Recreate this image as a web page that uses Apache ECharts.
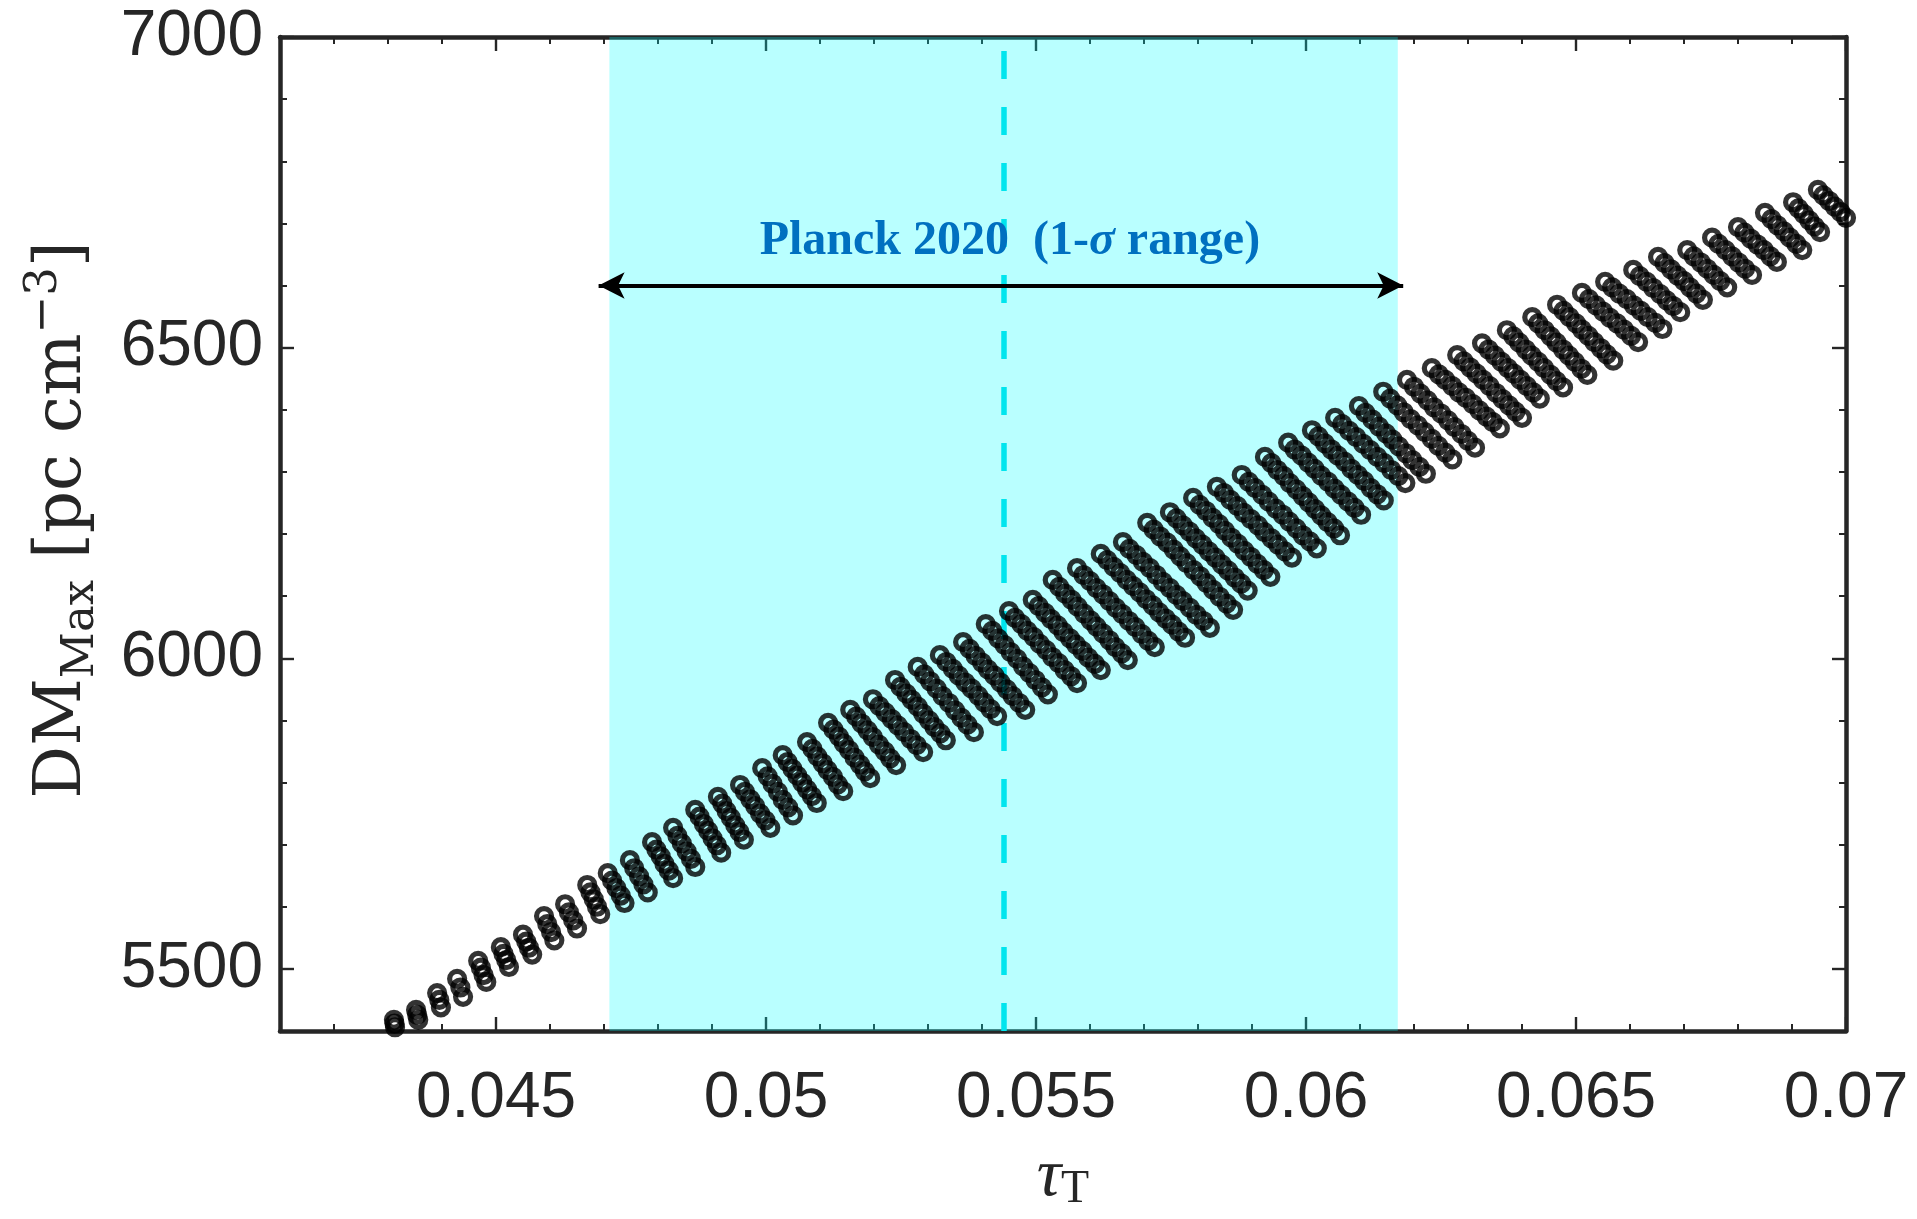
<!DOCTYPE html>
<html><head><meta charset="utf-8">
<script src="https://cdn.jsdelivr.net/npm/echarts@6/dist/echarts.min.js"></script>
<style>html,body{margin:0;padding:0;background:#fff}#c{width:1917px;height:1219px}</style>
</head><body><div id="c"></div><script>
// axis ranges and ticks
const xRange = [0.041, 0.07];
const yRange = [5400, 7000];
const xMajorTicks = [0.045, 0.05, 0.055, 0.06, 0.065, 0.07];
const xMinorTicks = [0.042,0.043,0.044,0.046,0.047,0.048,0.049,0.051,0.052,0.053,0.054,0.056,0.057,0.058,0.059,0.061,0.062,0.063,0.064,0.066,0.067,0.068,0.069];
const yMajorTicks = [5500, 6000, 6500, 7000];
const yMinorTicks = [5600,5700,5800,5900,6100,6200,6300,6400,6600,6700,6800,6900];
// Planck 2020 tau range
const planckRange = [0.0471, 0.0617];
const planckCentral = 0.0544;
const arrowSpan = [0.0469, 0.0618];
const arrowLevel = 6600;
// scatter points [tau_T, DM_Max], one row per stroke of the grid
const strokes = [
[[0.04311,5418],[0.04312,5412],[0.04313,5406]],
[[0.04352,5434],[0.04354,5426],[0.04356,5418]],
[[0.04391,5461],[0.04395,5450],[0.04398,5438]],
[[0.04428,5484],[0.04434,5470],[0.04439,5455]],
[[0.04467,5513],[0.04472,5502],[0.04477,5490],[0.04482,5479]],
[[0.04509,5535],[0.04514,5524],[0.04519,5514],[0.04524,5503]],
[[0.04550,5555],[0.04556,5544],[0.04561,5534],[0.04567,5523]],
[[0.04589,5585],[0.04595,5572],[0.04602,5559],[0.04608,5546]],
[[0.04628,5604],[0.04635,5591],[0.04643,5578],[0.04650,5565]],
[[0.04669,5635],[0.04675,5623],[0.04681,5612],[0.04687,5600],[0.04693,5588]],
[[0.04707,5654],[0.04715,5642],[0.04723,5630],[0.04731,5618],[0.04738,5606]],
[[0.04748,5675],[0.04756,5662],[0.04765,5649],[0.04773,5636],[0.04781,5623]],
[[0.04789,5704],[0.04797,5692],[0.04805,5681],[0.04812,5669],[0.04820,5658],[0.04828,5646]],
[[0.04828,5727],[0.04836,5714],[0.04844,5702],[0.04853,5689],[0.04861,5677],[0.04869,5664]],
[[0.04869,5756],[0.04877,5745],[0.04885,5733],[0.04893,5722],[0.04901,5710],[0.04909,5699],[0.04917,5687]],
[[0.04911,5777],[0.04919,5766],[0.04927,5754],[0.04935,5743],[0.04943,5731],[0.04951,5720],[0.04959,5708]],
[[0.04952,5796],[0.04961,5785],[0.04971,5773],[0.04980,5762],[0.04989,5750],[0.04999,5739],[0.05008,5727]],
[[0.04993,5823],[0.05003,5810],[0.05012,5798],[0.05022,5785],[0.05031,5772],[0.05041,5760],[0.05050,5747]],
[[0.05031,5844],[0.05040,5833],[0.05049,5822],[0.05058,5811],[0.05067,5800],[0.05076,5789],[0.05085,5778],[0.05094,5767]],
[[0.05076,5865],[0.05086,5854],[0.05095,5842],[0.05105,5831],[0.05114,5820],[0.05124,5809],[0.05133,5797],[0.05143,5786]],
[[0.05115,5896],[0.05125,5885],[0.05135,5874],[0.05144,5863],[0.05154,5852],[0.05164,5840],[0.05174,5829],[0.05183,5818],[0.05193,5807]],
[[0.05156,5917],[0.05167,5906],[0.05177,5895],[0.05188,5884],[0.05198,5873],[0.05209,5861],[0.05220,5850],[0.05230,5839],[0.05241,5828]],
[[0.05198,5934],[0.05210,5923],[0.05221,5913],[0.05233,5902],[0.05244,5892],[0.05256,5881],[0.05268,5870],[0.05279,5860],[0.05291,5849]],
[[0.05239,5965],[0.05249,5954],[0.05260,5943],[0.05270,5933],[0.05281,5922],[0.05291,5911],[0.05302,5900],[0.05312,5889],[0.05323,5879],[0.05333,5868]],
[[0.05281,5986],[0.05293,5974],[0.05304,5963],[0.05316,5951],[0.05327,5939],[0.05339,5928],[0.05350,5916],[0.05362,5904],[0.05373,5893],[0.05385,5881]],
[[0.05322,6005],[0.05334,5994],[0.05346,5983],[0.05357,5972],[0.05369,5961],[0.05381,5951],[0.05393,5940],[0.05404,5929],[0.05416,5918],[0.05428,5907]],
[[0.05365,6026],[0.05377,6015],[0.05388,6004],[0.05400,5993],[0.05411,5982],[0.05423,5972],[0.05434,5961],[0.05446,5950],[0.05457,5939],[0.05469,5928],[0.05480,5917]],
[[0.05407,6055],[0.05419,6044],[0.05430,6032],[0.05442,6021],[0.05453,6010],[0.05465,5999],[0.05476,5987],[0.05488,5976],[0.05499,5965],[0.05511,5953],[0.05522,5942]],
[[0.05450,6076],[0.05461,6065],[0.05473,6055],[0.05484,6044],[0.05496,6034],[0.05507,6023],[0.05519,6013],[0.05530,6002],[0.05542,5992],[0.05553,5981],[0.05565,5971],[0.05576,5960]],
[[0.05494,6094],[0.05505,6084],[0.05517,6073],[0.05528,6063],[0.05540,6053],[0.05551,6042],[0.05563,6032],[0.05574,6022],[0.05586,6012],[0.05597,6001],[0.05609,5991],[0.05620,5981]],
[[0.05531,6126],[0.05543,6115],[0.05554,6104],[0.05566,6094],[0.05577,6083],[0.05589,6072],[0.05601,6061],[0.05612,6051],[0.05624,6040],[0.05636,6029],[0.05647,6018],[0.05659,6008],[0.05670,5997]],
[[0.05576,6145],[0.05588,6134],[0.05600,6124],[0.05612,6113],[0.05624,6103],[0.05636,6092],[0.05648,6081],[0.05660,6071],[0.05672,6060],[0.05684,6050],[0.05696,6039],[0.05708,6028],[0.05720,6018]],
[[0.05620,6168],[0.05632,6158],[0.05644,6147],[0.05656,6137],[0.05668,6126],[0.05680,6116],[0.05692,6106],[0.05704,6095],[0.05716,6085],[0.05728,6074],[0.05740,6064],[0.05752,6054],[0.05764,6043],[0.05776,6033]],
[[0.05661,6187],[0.05673,6176],[0.05686,6166],[0.05698,6155],[0.05711,6145],[0.05723,6134],[0.05735,6123],[0.05748,6113],[0.05760,6102],[0.05772,6092],[0.05785,6081],[0.05797,6070],[0.05810,6060],[0.05822,6049]],
[[0.05706,6218],[0.05718,6207],[0.05730,6196],[0.05743,6186],[0.05755,6175],[0.05767,6164],[0.05779,6153],[0.05792,6142],[0.05804,6132],[0.05816,6121],[0.05828,6110],[0.05840,6099],[0.05853,6088],[0.05865,6078]],
[[0.05748,6235],[0.05760,6225],[0.05772,6214],[0.05784,6204],[0.05796,6193],[0.05808,6183],[0.05820,6172],[0.05832,6162],[0.05844,6151],[0.05856,6141],[0.05868,6130],[0.05880,6120],[0.05892,6109]],
[[0.05791,6258],[0.05803,6247],[0.05815,6237],[0.05827,6226],[0.05839,6216],[0.05850,6205],[0.05862,6194],[0.05874,6184],[0.05886,6173],[0.05898,6163],[0.05910,6152],[0.05922,6142],[0.05934,6131]],
[[0.05835,6276],[0.05848,6266],[0.05860,6255],[0.05873,6245],[0.05885,6234],[0.05898,6224],[0.05911,6214],[0.05923,6203],[0.05936,6193],[0.05948,6183],[0.05961,6172],[0.05974,6162]],
[[0.05881,6295],[0.05894,6284],[0.05906,6274],[0.05919,6263],[0.05931,6252],[0.05944,6241],[0.05957,6231],[0.05969,6220],[0.05982,6209],[0.05994,6198],[0.06007,6188],[0.06020,6177]],
[[0.05924,6324],[0.05936,6314],[0.05947,6303],[0.05959,6293],[0.05970,6282],[0.05982,6272],[0.05994,6261],[0.06005,6251],[0.06017,6240],[0.06028,6230],[0.06040,6219],[0.06052,6209],[0.06063,6198]],
[[0.05967,6347],[0.05979,6336],[0.05992,6326],[0.06004,6315],[0.06016,6305],[0.06028,6294],[0.06041,6284],[0.06053,6273],[0.06065,6263],[0.06078,6252],[0.06090,6242],[0.06102,6231]],
[[0.06011,6367],[0.06023,6357],[0.06035,6346],[0.06047,6336],[0.06059,6326],[0.06072,6316],[0.06084,6305],[0.06096,6295],[0.06108,6285],[0.06120,6274],[0.06132,6264],[0.06144,6254]],
[[0.06054,6387],[0.06067,6377],[0.06080,6366],[0.06093,6356],[0.06106,6345],[0.06119,6335],[0.06132,6324],[0.06145,6314],[0.06158,6303],[0.06171,6293],[0.06184,6282]],
[[0.06098,6406],[0.06110,6395],[0.06123,6384],[0.06135,6373],[0.06148,6362],[0.06160,6352],[0.06172,6341],[0.06185,6330],[0.06197,6319],[0.06210,6308],[0.06222,6297]],
[[0.06143,6429],[0.06156,6418],[0.06169,6407],[0.06181,6396],[0.06194,6385],[0.06207,6375],[0.06220,6364],[0.06233,6353],[0.06245,6342],[0.06258,6331],[0.06271,6320]],
[[0.06187,6448],[0.06200,6437],[0.06212,6426],[0.06225,6415],[0.06237,6404],[0.06250,6394],[0.06263,6383],[0.06275,6372],[0.06288,6361],[0.06300,6350],[0.06313,6339]],
[[0.06233,6467],[0.06246,6457],[0.06258,6448],[0.06271,6438],[0.06283,6428],[0.06296,6419],[0.06309,6409],[0.06321,6399],[0.06334,6389],[0.06346,6380],[0.06359,6370]],
[[0.06280,6488],[0.06292,6478],[0.06304,6468],[0.06316,6458],[0.06328,6448],[0.06340,6438],[0.06352,6427],[0.06364,6417],[0.06376,6407],[0.06388,6397],[0.06400,6387]],
[[0.06326,6507],[0.06338,6497],[0.06350,6487],[0.06362,6477],[0.06374,6467],[0.06385,6458],[0.06397,6448],[0.06409,6438],[0.06421,6428],[0.06433,6418]],
[[0.06372,6528],[0.06384,6518],[0.06395,6508],[0.06407,6497],[0.06418,6487],[0.06430,6477],[0.06441,6467],[0.06453,6456],[0.06464,6446],[0.06476,6436]],
[[0.06419,6549],[0.06430,6539],[0.06442,6528],[0.06453,6518],[0.06464,6508],[0.06476,6497],[0.06487,6487],[0.06498,6477],[0.06510,6466],[0.06521,6456]],
[[0.06465,6569],[0.06477,6559],[0.06488,6549],[0.06500,6539],[0.06511,6529],[0.06523,6519],[0.06534,6509],[0.06546,6499],[0.06557,6489],[0.06569,6479]],
[[0.06511,6588],[0.06524,6578],[0.06537,6568],[0.06550,6558],[0.06563,6548],[0.06576,6539],[0.06589,6529],[0.06602,6519],[0.06615,6509]],
[[0.06554,6606],[0.06567,6597],[0.06580,6587],[0.06594,6578],[0.06607,6568],[0.06620,6559],[0.06633,6549],[0.06647,6540],[0.06660,6530]],
[[0.06606,6625],[0.06618,6615],[0.06631,6606],[0.06643,6596],[0.06656,6586],[0.06668,6576],[0.06680,6567],[0.06693,6557]],
[[0.06652,6646],[0.06664,6636],[0.06676,6626],[0.06688,6616],[0.06700,6607],[0.06711,6597],[0.06723,6587],[0.06735,6577]],
[[0.06706,6657],[0.06718,6647],[0.06731,6637],[0.06743,6627],[0.06755,6617],[0.06767,6607],[0.06780,6597]],
[[0.06752,6677],[0.06764,6667],[0.06777,6657],[0.06789,6647],[0.06801,6637],[0.06813,6627],[0.06826,6617]],
[[0.06800,6694],[0.06812,6685],[0.06824,6675],[0.06836,6666],[0.06848,6657],[0.06860,6647],[0.06872,6638]],
[[0.06850,6717],[0.06862,6707],[0.06873,6697],[0.06885,6687],[0.06896,6677],[0.06908,6667],[0.06919,6657]],
[[0.06902,6734],[0.06912,6724],[0.06922,6715],[0.06932,6705],[0.06942,6695],[0.06952,6686]],
[[0.06948,6754],[0.06958,6745],[0.06969,6736],[0.06979,6727],[0.06990,6718],[0.07000,6709]]
];

const axisCol = '#262626';
const serif = 'DejaVu Serif';
const boldSerif = 'Liberation Serif';
const sans = 'Liberation Sans';
const plain = v => String(v);

function xAx(pos, major) {
  return {
    type: 'value', position: pos, min: xRange[0], max: xRange[1],
    axisLine: { show: major, onZero: false, lineStyle: { color: axisCol, width: 4.5 } },
    splitLine: { show: false },
    axisTick: { show: true, inside: true, length: major ? 14 : 7,
      customValues: major ? xMajorTicks : xMinorTicks,
      lineStyle: { color: axisCol, width: major ? 2.4 : 2 } },
    axisLabel: (pos === 'bottom' && major) ? {
      show: true, customValues: xMajorTicks, margin: 36, fontSize: 64, formatter: plain,
      fontFamily: sans, color: axisCol } : { show: false }
  };
}
function yAx(pos, major) {
  return {
    type: 'value', position: pos, min: yRange[0], max: yRange[1],
    axisLine: { show: major, onZero: false, lineStyle: { color: axisCol, width: 4.5 } },
    splitLine: { show: false },
    axisTick: { show: true, inside: true, length: major ? 14 : 7,
      customValues: major ? yMajorTicks : yMinorTicks,
      lineStyle: { color: axisCol, width: major ? 2.4 : 2 } },
    axisLabel: (pos === 'left' && major) ? {
      show: true, customValues: yMajorTicks, margin: 17, fontSize: 64, formatter: plain,
      fontFamily: sans, color: axisCol } : { show: false }
  };
}

const xMain = xAx('bottom', true);
xMain.name = '{t|τ}{s|T}';
xMain.nameLocation = 'middle';
xMain.nameGap = 112;
xMain.nameMoveOverlap = false;
xMain.nameTextStyle = { rich: {
  t: { fontFamily: 'Liberation Serif', fontStyle: 'italic', fontSize: 68, color: axisCol, lineHeight: 70, verticalAlign: 'top' },
  s: { fontFamily: 'Liberation Serif', fontSize: 46, color: axisCol, lineHeight: 46, verticalAlign: 'bottom' }
}};

const yMain = yAx('left', true);
yMain.name = '{a|DM}{b|Max}{a| [pc cm}{c|−3}{a|]}';
yMain.nameLocation = 'middle';
yMain.nameRotate = 90;
yMain.nameGap = 176;
yMain.nameMoveOverlap = false;
yMain.nameTextStyle = { padding: [0, 0, 0, 28], rich: {
  a: { fontFamily: serif, fontSize: 66, color: axisCol, lineHeight: 82 },
  b: { fontFamily: serif, fontSize: 45, color: axisCol, lineHeight: 45, verticalAlign: 'bottom' },
  c: { fontFamily: serif, fontSize: 45, color: axisCol, lineHeight: 45, verticalAlign: 'top' }
}};

const option = {
  animation: false,
  backgroundColor: '#ffffff',
  grid: { left: 280, top: 37, width: 1566, height: 994, containLabel: false, outerBoundsMode: 'none' },
  xAxis: [xMain, xAx('top', true), xAx('bottom', false), xAx('top', false)],
  yAxis: [yMain, yAx('right', true), yAx('left', false), yAx('right', false)],
  series: [
    {
      type: 'line', data: [], xAxisIndex: 0, yAxisIndex: 0, z: 5, silent: true,
      markArea: {
        silent: true,
        itemStyle: { color: 'rgba(0,255,255,0.275)' },
        data: [[{ xAxis: planckRange[0] }, { xAxis: planckRange[1] }]]
      }
    },
    {
      type: 'line', data: [], xAxisIndex: 0, yAxisIndex: 0, z: 6, silent: true,
      markLine: {
        silent: true, symbol: 'none', animation: false,
        label: { show: false },
        lineStyle: { color: '#00e5ee', width: 5.5, type: [28, 28] },
        data: [[{ coord: [planckCentral, yRange[0]] }, { coord: [planckCentral, yRange[1]] }]]
      }
    },
    {
      type: 'scatter', xAxisIndex: 0, yAxisIndex: 0, z: 10, silent: true,
      symbol: 'circle', symbolSize: 15,
      itemStyle: { color: 'rgba(0,0,0,0)', borderColor: '#000', borderWidth: 5.2 },
      data: strokes.flat()
    },
    {
      type: 'line', data: [], xAxisIndex: 0, yAxisIndex: 0, z: 12, silent: true,
      markLine: {
        silent: true, symbol: ['arrow', 'arrow'], symbolSize: [20, 26], animation: false,
        lineStyle: { color: '#000', width: 4, type: 'solid' },
        label: {
          show: true, position: 'middle', distance: 20,
          formatter: '{b|Planck 2020  (1-}{i|σ}{b| range)}',
          padding: [0, 0, 0, 18],
          rich: {
            b: { fontFamily: boldSerif, fontWeight: 'bold', fontSize: 48, color: '#0070c0' },
            i: { fontFamily: boldSerif, fontWeight: 'bold', fontStyle: 'italic', fontSize: 48, color: '#0070c0' }
          }
        },
        data: [[{ coord: [arrowSpan[0], arrowLevel] }, { coord: [arrowSpan[1], arrowLevel] }]]
      }
    }
  ]
};
const chart = echarts.init(document.getElementById('c'), null, { renderer: 'canvas' });
chart.setOption(option);
</script></body></html>
